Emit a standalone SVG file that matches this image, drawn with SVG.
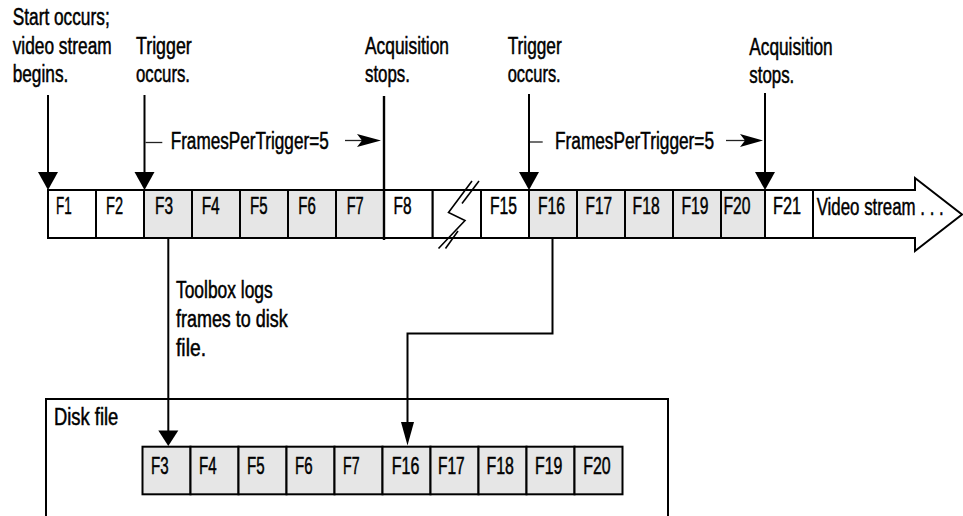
<svg xmlns="http://www.w3.org/2000/svg" xmlns:xlink="http://www.w3.org/1999/xlink" width="963" height="516" viewBox="0 0 963 516">
<style>
.t{font-family:"Liberation Sans Narrow","Liberation Sans",Arial,sans-serif;fill:#000;font-size:23px;stroke:#000;stroke-width:0.5px}
.c{font-size:24.5px}
.d{font-size:23px}
.cell{stroke:#000;stroke-width:2}
.w{fill:#fff}
.g{fill:#e6e6e6}
.ln{stroke:#000;stroke-width:2;fill:none}
.tk{stroke:#222;stroke-width:1.3;fill:none}
</style>
<defs>
<path id="ah" d="M-10,-18 L10,-18 L0,0 Z" fill="#000"/>
</defs>
<rect width="963" height="516" fill="#fff"/>

<g id="label-start">
<text class="t" x="12.7" y="25" textLength="97" lengthAdjust="spacingAndGlyphs">Start occurs;</text>
<text class="t" x="12.7" y="54" textLength="99" lengthAdjust="spacingAndGlyphs">video stream</text>
<text class="t" x="12.7" y="82" textLength="55.6" lengthAdjust="spacingAndGlyphs">begins.</text>
</g>
<g id="label-trigger1">
<text class="t" x="136" y="54" textLength="55.7" lengthAdjust="spacingAndGlyphs">Trigger</text>
<text class="t" x="136" y="82" textLength="54" lengthAdjust="spacingAndGlyphs">occurs.</text>
</g>
<g id="label-stop1">
<text class="t" x="365" y="54" textLength="84" lengthAdjust="spacingAndGlyphs">Acquisition</text>
<text class="t" x="365" y="82" textLength="45" lengthAdjust="spacingAndGlyphs">stops.</text>
</g>
<g id="label-trigger2">
<text class="t" x="507.7" y="54" textLength="54" lengthAdjust="spacingAndGlyphs">Trigger</text>
<text class="t" x="507.7" y="82" textLength="53" lengthAdjust="spacingAndGlyphs">occurs.</text>
</g>
<g id="label-stop2">
<text class="t" x="749.3" y="55" textLength="83.4" lengthAdjust="spacingAndGlyphs">Acquisition</text>
<text class="t" x="749.3" y="83" textLength="45" lengthAdjust="spacingAndGlyphs">stops.</text>
</g>
<g id="label-fpt1">
<text class="t" x="170.7" y="149" style="font-size:23.5px" textLength="158" lengthAdjust="spacingAndGlyphs">FramesPerTrigger=5</text>
</g>
<g id="label-fpt2">
<text class="t" x="555" y="149" style="font-size:23.5px" textLength="159" lengthAdjust="spacingAndGlyphs">FramesPerTrigger=5</text>
</g>

<g id="stream">
<path class="cell w" d="M813,190 H915 V178 L962,214.5 L915,251 V238 H813"/>
<text class="t" x="816.7" y="215" style="font-size:23.5px" textLength="127" lengthAdjust="spacingAndGlyphs">Video stream . . .</text>
</g>
<g id="f1"><rect class="cell w" x="48" y="190" width="48" height="48"/><text class="t c" x="56" y="213.5" textLength="15.7" lengthAdjust="spacingAndGlyphs">F1</text></g>
<g id="f2"><rect class="cell w" x="96" y="190" width="48" height="48"/><text class="t c" x="106" y="213.5" textLength="17" lengthAdjust="spacingAndGlyphs">F2</text></g>
<g id="f3"><rect class="cell g" x="144" y="190" width="48" height="48"/><text class="t c" x="155" y="213.5" textLength="18" lengthAdjust="spacingAndGlyphs">F3</text></g>
<g id="f4"><rect class="cell g" x="192" y="190" width="48" height="48"/><text class="t c" x="201.7" y="213.5" textLength="18" lengthAdjust="spacingAndGlyphs">F4</text></g>
<g id="f5"><rect class="cell g" x="240" y="190" width="48" height="48"/><text class="t c" x="250" y="213.5" textLength="17.5" lengthAdjust="spacingAndGlyphs">F5</text></g>
<g id="f6"><rect class="cell g" x="288" y="190" width="48" height="48"/><text class="t c" x="298.3" y="213.5" textLength="17.5" lengthAdjust="spacingAndGlyphs">F6</text></g>
<g id="f7"><rect class="cell g" x="336" y="190" width="48" height="48"/><text class="t c" x="346.7" y="213.5" textLength="17" lengthAdjust="spacingAndGlyphs">F7</text></g>
<g id="f8"><rect class="cell w" x="384" y="190" width="48.7" height="48"/><text class="t c" x="393.5" y="213.5" textLength="18" lengthAdjust="spacingAndGlyphs">F8</text></g>
<g id="break">
<rect class="cell w" x="432.7" y="190" width="48.3" height="48"/>
<polyline class="ln" style="stroke-width:1.6" points="472,181 448.5,212.5 465,220.5 438.5,248.5"/>
<polyline class="ln" style="stroke-width:1.6" points="479,181 462,203.5"/>
<polyline class="ln" style="stroke-width:1.6" points="445.5,248.5 458,231"/>
</g>
<g id="f15"><rect class="cell w" x="481" y="190" width="48" height="48"/><text class="t c" x="490" y="213.5" textLength="27" lengthAdjust="spacingAndGlyphs">F15</text></g>
<g id="f16"><rect class="cell g" x="529" y="190" width="48" height="48"/><text class="t c" x="538" y="213.5" textLength="27" lengthAdjust="spacingAndGlyphs">F16</text></g>
<g id="f17"><rect class="cell g" x="577" y="190" width="48" height="48"/><text class="t c" x="585.5" y="213.5" textLength="26.5" lengthAdjust="spacingAndGlyphs">F17</text></g>
<g id="f18"><rect class="cell g" x="625" y="190" width="48" height="48"/><text class="t c" x="632.6" y="213.5" textLength="27" lengthAdjust="spacingAndGlyphs">F18</text></g>
<g id="f19"><rect class="cell g" x="673" y="190" width="48" height="48"/><text class="t c" x="681.4" y="213.5" textLength="27" lengthAdjust="spacingAndGlyphs">F19</text></g>
<g id="f20"><rect class="cell g" x="721" y="190" width="44" height="48"/><text class="t c" x="723.5" y="213.5" textLength="27" lengthAdjust="spacingAndGlyphs">F20</text></g>
<g id="f21"><rect class="cell w" x="765" y="190" width="48" height="48"/><text class="t c" x="773" y="213.5" textLength="28" lengthAdjust="spacingAndGlyphs">F21</text></g>

<g id="label-toolbox">
<text class="t" x="176" y="298" textLength="96.7" lengthAdjust="spacingAndGlyphs">Toolbox logs</text>
<text class="t" x="176" y="327" textLength="111.7" lengthAdjust="spacingAndGlyphs">frames to disk</text>
<text class="t" x="176" y="356" textLength="30" lengthAdjust="spacingAndGlyphs">file.</text>
</g>

<g id="disk-file">
<path class="ln" d="M46,520 V399 H668 V520"/>
<text class="t" x="54" y="425" textLength="64.3" lengthAdjust="spacingAndGlyphs">Disk file</text>
</g>
<g id="d3"><rect class="cell g" x="142.5" y="446.7" width="48" height="47.6"/><text class="t d" x="151" y="474" textLength="17.6" lengthAdjust="spacingAndGlyphs">F3</text></g>
<g id="d4"><rect class="cell g" x="190.5" y="446.7" width="48" height="47.6"/><text class="t d" x="199" y="474" textLength="17.6" lengthAdjust="spacingAndGlyphs">F4</text></g>
<g id="d5"><rect class="cell g" x="238.5" y="446.7" width="48" height="47.6"/><text class="t d" x="247" y="474" textLength="17.6" lengthAdjust="spacingAndGlyphs">F5</text></g>
<g id="d6"><rect class="cell g" x="286.5" y="446.7" width="48" height="47.6"/><text class="t d" x="295" y="474" textLength="17.6" lengthAdjust="spacingAndGlyphs">F6</text></g>
<g id="d7"><rect class="cell g" x="334.5" y="446.7" width="48" height="47.6"/><text class="t d" x="343" y="474" textLength="16.5" lengthAdjust="spacingAndGlyphs">F7</text></g>
<g id="d16"><rect class="cell g" x="382.5" y="446.7" width="48" height="47.6"/><text class="t d" x="391.7" y="474" textLength="27.6" lengthAdjust="spacingAndGlyphs">F16</text></g>
<g id="d17"><rect class="cell g" x="430.5" y="446.7" width="48" height="47.6"/><text class="t d" x="438" y="474" textLength="26.7" lengthAdjust="spacingAndGlyphs">F17</text></g>
<g id="d18"><rect class="cell g" x="478.5" y="446.7" width="48" height="47.6"/><text class="t d" x="486.5" y="474" textLength="27.4" lengthAdjust="spacingAndGlyphs">F18</text></g>
<g id="d19"><rect class="cell g" x="526.5" y="446.7" width="48" height="47.6"/><text class="t d" x="535" y="474" textLength="27.4" lengthAdjust="spacingAndGlyphs">F19</text></g>
<g id="d20"><rect class="cell g" x="574.5" y="446.7" width="48" height="47.6"/><text class="t d" x="583.3" y="474" textLength="27.4" lengthAdjust="spacingAndGlyphs">F20</text></g>

<g id="connectors">
<line class="ln" x1="48" y1="95" x2="48" y2="173"/>
<use xlink:href="#ah" x="48" y="190"/>
<line class="ln" x1="144.5" y1="95" x2="144.5" y2="173"/>
<use xlink:href="#ah" x="144.5" y="190"/>
<line class="ln" x1="384" y1="96" x2="384" y2="240" style="stroke-width:2.4"/>
<line class="ln" x1="529" y1="94" x2="529" y2="173"/>
<use xlink:href="#ah" x="529" y="190"/>
<line class="ln" x1="765" y1="93" x2="765" y2="173"/>
<use xlink:href="#ah" x="765" y="190"/>
<line class="tk" x1="145.5" y1="142.5" x2="162.3" y2="142.5"/>
<line class="tk" x1="530" y1="142" x2="542.7" y2="142"/>
<line class="tk" x1="345" y1="140.5" x2="362" y2="140.5"/>
<polygon points="357,134 381,140.5 357,147 362,140.5" fill="#000"/>
<line class="tk" x1="726" y1="140.5" x2="745" y2="140.5"/>
<polygon points="740,134 763,140.5 740,147 745,140.5" fill="#000"/>
<line class="ln" x1="168.3" y1="238" x2="168.3" y2="431"/>
<polygon points="158.3,430.5 178.3,430.5 168.3,446" fill="#000"/>
<polyline class="ln" points="552.5,238 552.5,333.5 407.5,333.5 407.5,423"/>
<polygon points="401,422 414,422 407.5,445.5" fill="#000"/>
</g>
</svg>
